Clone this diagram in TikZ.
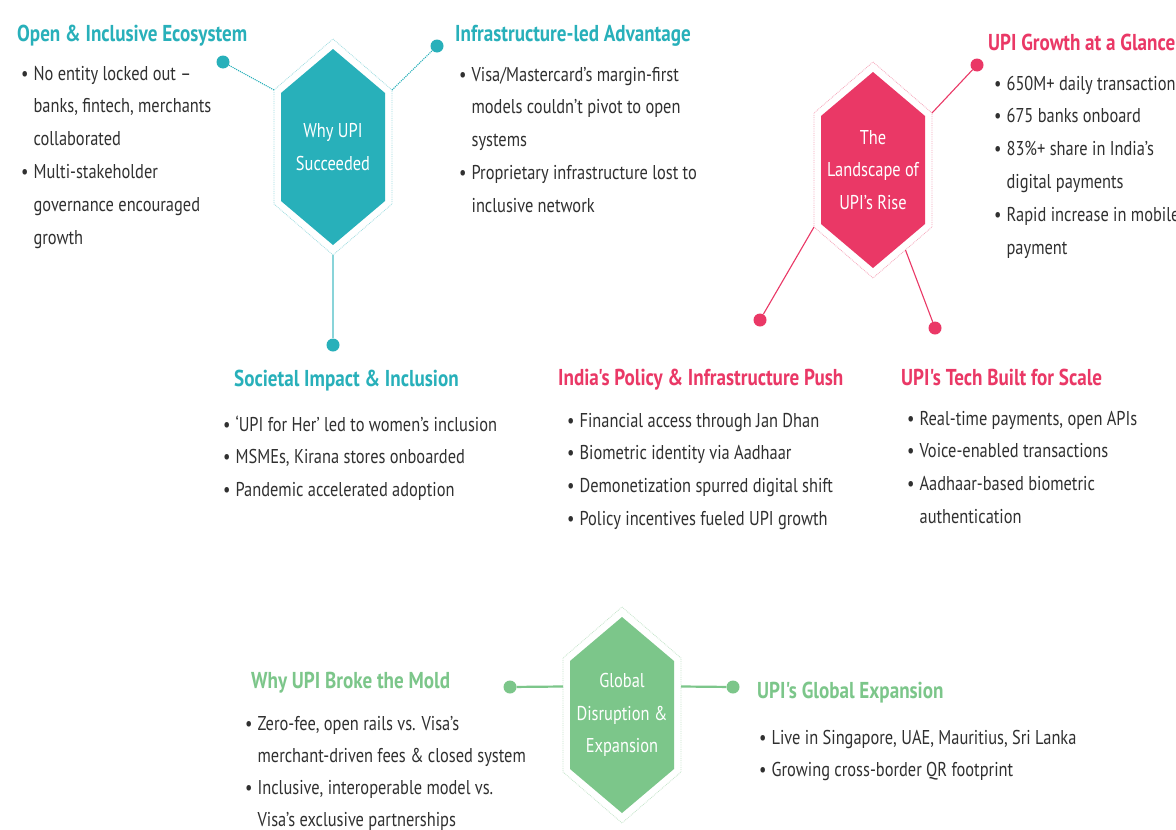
\documentclass[tikz,border=0pt]{standalone}
\usepackage{fontspec}
\setmainfont{PT Sans}[FakeStretch=0.82]
\newfontfamily\headfont{PT Sans}[FakeStretch=0.83]
\usetikzlibrary{calc,positioning}
\definecolor{upiteal}{RGB}{40,176,186}
\definecolor{upipink}{RGB}{234,56,102}
\definecolor{upigreen}{RGB}{124,198,138}
\definecolor{bodygray}{RGB}{48,48,48}
\tikzset{
  head/.style={anchor=base west, inner sep=0pt, font=\headfont\bfseries\fontsize{23}{28}\selectfont},
  body/.style={anchor=north west, inner sep=0pt, align=left, text=bodygray, font=\fontsize{20}{32.8}\selectfont},
  hexlabel/.style={align=center, text=white, inner sep=0pt, font=\fontsize{20}{32.5}\selectfont},
  dot/.style={circle, inner sep=0pt, minimum size=13pt},
  link/.style={line width=1.1pt}
}
% bullet line and continuation line
\newcommand{\bl}{\textbullet\hspace{5pt}}
\newcommand{\cl}{\phantom{\textbullet}\hspace{5pt}}
% hexagon with dotted outline: name, centre, colour
\newcommand{\hexcell}[3]{%
  \coordinate (#1) at #2;
  \fill[#3] ($(#1)+(0,-98)$) -- ($(#1)+(52,-54)$) -- ($(#1)+(52,54)$) -- ($(#1)+(0,98)$)
    -- ($(#1)+(-52,54)$) -- ($(#1)+(-52,-54)$) -- cycle;
  \draw[#3!45, densely dotted, line width=0.8pt]
    ($(#1)+(0,-108)$) coordinate (#1-n) -- ($(#1)+(59,-57)$) coordinate (#1-ne)
    -- ($(#1)+(59,57)$) coordinate (#1-se) -- ($(#1)+(0,108)$) coordinate (#1-s)
    -- ($(#1)+(-59,57)$) coordinate (#1-sw) -- ($(#1)+(-59,-57)$) coordinate (#1-nw) -- cycle;
}

\begin{document}
\begin{tikzpicture}[x=1pt, y=-1pt]
  \fill[white] (0,0) rectangle (1176,830);
  \useasboundingbox (0,0) rectangle (1176,830);
  \clip (0,0) rectangle (1176,830);

  % why UPI succeeded
  \hexcell{why}{(333,147)}{upiteal}
  \node[hexlabel] (why-txt) at (why) {Why UPI\\ Succeeded};
  \node[dot, fill=upiteal] (d-open) at (223,62) {};
  \node[dot, fill=upiteal] (d-infra) at (437,46) {};
  \node[dot, fill=upiteal] (d-soc) at (333,345) {};
  \draw[upiteal, link, densely dotted] (why-nw) -- (d-open);
  \draw[upiteal, link, densely dotted] (why-ne) -- (d-infra);
  \draw[upiteal!55, link] (why-s) -- (d-soc);

  \node[head, text=upiteal] (h-open) at (17,41) {Open \& Inclusive Ecosystem};
  \node[body] (b-open) at (21,57) {\strut\bl No entity locked out --\\ \cl banks, fintech, merchants\\ \cl collaborated\\
    \bl Multi-stakeholder\\ \cl governance encouraged\\ \cl growth};
  \node[head, text=upiteal] (h-infra) at (455,41) {Infrastructure-led Advantage};
  \node[body] (b-infra) at (459,58) {\strut\bl Visa/Mastercard's margin-first\\ \cl models couldn't pivot to open\\ \cl systems\\
    \bl Proprietary infrastructure lost to\\ \cl inclusive network};
  \node[head, text=upiteal] (h-soc) at (234,386) {Societal Impact \& Inclusion};
  \node[body] (b-soc) at (223,408) {\strut\bl ‘UPI for Her’ led to women's inclusion\\ \bl MSMEs, Kirana stores onboarded\\
    \bl Pandemic accelerated adoption};

  % landscape of UPI's rise
  \hexcell{land}{(873,170)}{upipink}
  \node[hexlabel] (land-txt) at (land) {The\\ Landscape of\\ UPI's Rise};
  \node[dot, fill=upipink] (d-grow) at (977,65) {};
  \node[dot, fill=upipink] (d-policy) at (760,320) {};
  \node[dot, fill=upipink] (d-tech) at (935,328) {};
  \draw[upipink, link] (land-ne) -- (d-grow);
  \draw[upipink, link] (land-sw) -- (d-policy);
  \draw[upipink, link] ($(land-se)!0.45!(land-s)$) -- (d-tech);

  \node[head, text=upipink] (h-grow) at (988,50) {UPI Growth at a Glance};
  \node[body] (b-grow) at (994,67) {\strut\bl 650M+ daily transactions\\ \bl 675 banks onboard\\ \bl 83\%+ share in India's\\
    \cl digital payments\\ \bl Rapid increase in mobile\\ \cl payment};
  \node[head, text=upipink] (h-policy) at (558,385) {India's Policy \& Infrastructure Push};
  \node[body] (b-policy) at (567,404) {\strut\bl Financial access through Jan Dhan\\ \bl Biometric identity via Aadhaar\\
    \bl Demonetization spurred digital shift\\ \bl Policy incentives fueled UPI growth};
  \node[head, text=upipink] (h-tech) at (901,385) {UPI's Tech Built for Scale};
  \node[body] (b-tech) at (907,402) {\strut\bl Real-time payments, open APIs\\ \bl Voice-enabled transactions\\
    \bl Aadhaar-based biometric\\ \cl authentication};

  % global disruption
  \hexcell{glob}{(622,715)}{upigreen}
  \node[hexlabel] (glob-txt) at (glob) {Global\\ Disruption \&\\ Expansion};
  \node[dot, fill=upigreen] (d-mold) at (510,687) {};
  \node[dot, fill=upigreen] (d-exp) at (733,687) {};
  \draw[upigreen, line width=2.2pt] ($(glob-nw)!0.25!(glob-sw)$) -- (d-mold);
  \draw[upigreen, line width=2.2pt] ($(glob-ne)!0.25!(glob-se)$) -- (d-exp);

  \node[head, text=upigreen] (h-mold) at (251,688) {Why UPI Broke the Mold};
  \node[body, font=\fontsize{20}{32}\selectfont] (b-mold) at (245,708) {\strut\bl Zero-fee, open rails vs. Visa's\\ \cl merchant-driven fees \& closed system\\
    \bl Inclusive, interoperable model vs.\\ \cl Visa's exclusive partnerships};
  \node[head, text=upigreen] (h-exp) at (757,698) {UPI's Global Expansion};
  \node[body] (b-exp) at (759,721) {\strut\bl Live in Singapore, UAE, Mauritius, Sri Lanka\\ \bl Growing cross-border QR footprint};
\end{tikzpicture}
\end{document}
